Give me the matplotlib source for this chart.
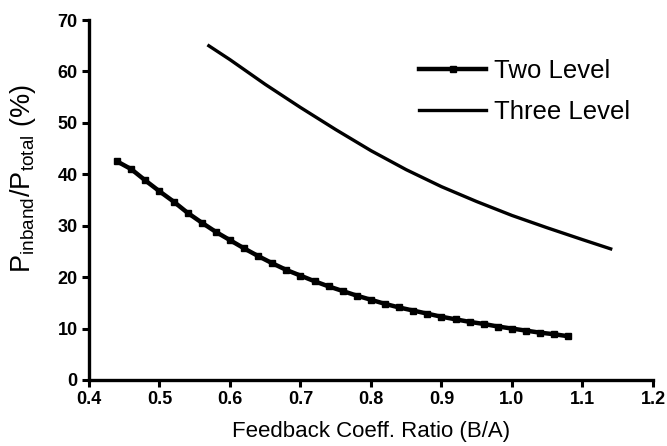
import matplotlib.pyplot as plt
import numpy as np

plt.rcParams['font.family'] = ['Liberation Sans', 'DejaVu Sans']

# Two Level (markers every 0.02)
x_two = [0.44, 0.46, 0.48, 0.50, 0.52, 0.54, 0.56, 0.58, 0.60, 0.62, 0.64,
         0.66, 0.68, 0.70, 0.72, 0.74, 0.76, 0.78, 0.80, 0.82, 0.84, 0.86,
         0.88, 0.90, 0.92, 0.94, 0.96, 0.98, 1.00, 1.02, 1.04, 1.06, 1.08]
y_two = [42.5, 41.0, 38.8, 36.7, 34.7, 32.5, 30.6, 28.8, 27.2, 25.6, 24.1,
         22.7, 21.4, 20.3, 19.2, 18.2, 17.3, 16.4, 15.6, 14.8, 14.1, 13.5,
         12.9, 12.3, 11.8, 11.3, 10.9, 10.4, 10.0, 9.6, 9.2, 8.9, 8.5]

# Three Level
x_three = [0.57, 0.60, 0.65, 0.70, 0.75, 0.80, 0.85, 0.90, 0.95, 1.00, 1.05, 1.10, 1.14]
y_three = [65.0, 62.3, 57.5, 53.0, 48.7, 44.6, 40.9, 37.6, 34.7, 32.0, 29.6, 27.3, 25.5]

xticks = [0.4, 0.5, 0.6, 0.7, 0.8, 0.9, 1.0, 1.1, 1.2]
yticks = [0, 10, 20, 30, 40, 50, 60, 70]

fig = plt.figure(figsize=(6.67, 4.46), dpi=100)
ax = fig.add_axes([0.1334, 0.148, 0.8456, 0.807])

ax.plot(x_two, y_two, color='black', lw=3.2, marker='s', ms=5, label='Two Level')
ax.plot(x_three, y_three, color='black', lw=2.4, label='Three Level')

ax.set_xlim(0.4, 1.2)
ax.set_ylim(0, 70)
ax.set_xticks(xticks)
ax.set_xticklabels(['%.1f' % v for v in xticks], fontsize=13, fontweight='bold')
ax.set_yticks(yticks)
ax.set_yticklabels([str(v) for v in yticks], fontsize=13, fontweight='bold')

for s in ['top', 'right']:
    ax.spines[s].set_visible(False)
for s in ['left', 'bottom']:
    ax.spines[s].set_linewidth(2.4)

ax.tick_params(direction='out', length=5, width=2.2, pad=3)

ax.set_xlabel('Feedback Coeff. Ratio (B/A)', fontsize=16, labelpad=9)
ax.set_ylabel(r'P$_{\mathregular{inband}}$/P$_{\mathregular{total}}$ (%)', fontsize=19.5)
ax.yaxis.set_label_coords(-0.09, 0.56)

leg = ax.legend(loc='upper right', bbox_to_anchor=(1.0, 0.955), frameon=False,
                fontsize=18.5, handlelength=2.6, handletextpad=0.3,
                labelspacing=0.65, markerscale=1.0)
leg.legend_handles[0].set_markevery([1])

fig.savefig('out.png', dpi=100)
